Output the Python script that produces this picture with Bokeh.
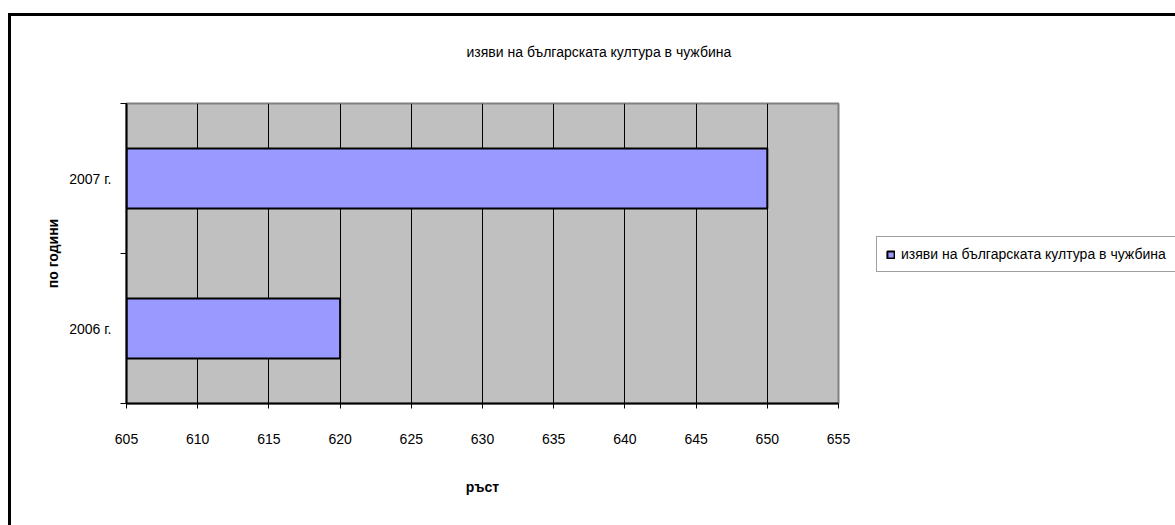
from bokeh.plotting import figure
from bokeh.layouts import row
from bokeh.models import (Range1d, FixedTicker, Legend, LegendItem, ColumnDataSource, Title)
from bokeh.embed import file_html
from bokeh.resources import INLINE

# ---- data ----
chart_title = "изяви на българската култура в чужбина"
series_name = "изяви на българската култура в чужбина"
years = ["2006 г.", "2007 г."]
values = [620, 650]
x_ticks = [605, 610, 615, 620, 625, 630, 635, 640, 645, 650, 655]
x_axis_title = "ръст"
y_axis_title = "по години"
X_MIN, X_MAX = 605, 655

FONT = "Liberation Sans, Arial, sans-serif"
FS = "14px"
BAR_FILL = "#9999FF"

y_pos = [i + 0.5 for i in range(len(years))]
src = ColumnDataSource(dict(y=y_pos, right=values, left=[X_MIN] * len(values)))

p = figure(width=870, height=525, output_backend="svg", toolbar_location=None,
           x_range=Range1d(X_MIN, X_MAX), y_range=Range1d(0, len(years)),
           min_border_left=126, min_border_right=32, min_border_top=103,
           min_border_bottom=122)

p.background_fill_color = "#C0C0C0"
p.border_fill_alpha = 0
p.outline_line_color = "#808080"
p.outline_line_width = 2

# title
p.title = Title(text=chart_title, align="left", offset=340, text_font=FONT,
                text_font_size=FS, text_font_style="normal", text_color="black",
                vertical_align="top", standoff=84)

# grid
p.ygrid.grid_line_color = None
p.xgrid.ticker = FixedTicker(ticks=x_ticks)
p.xgrid.grid_line_color = "black"
p.xgrid.grid_line_width = 1

# bars
r = p.hbar(y="y", left="left", right="right", height=0.4, source=src,
           fill_color=BAR_FILL, line_color="black", line_width=2)

# x axis
xa = p.xaxis[0]
xa.ticker = FixedTicker(ticks=x_ticks)
xa.axis_line_color = "black"
xa.axis_line_width = 2
xa.major_tick_line_color = "black"
xa.major_tick_out = 5
xa.major_tick_in = 0
xa.minor_tick_line_color = None
xa.major_label_standoff = 25
xa.major_label_text_font = FONT
xa.major_label_text_font_size = FS
xa.major_label_text_color = "black"
xa.axis_label = x_axis_title
xa.axis_label_text_font = FONT
xa.axis_label_text_font_size = "14px"
xa.axis_label_text_font_style = "bold"
xa.axis_label_text_color = "black"
xa.axis_label_standoff = 32

# y axis
ya = p.yaxis[0]
ya.ticker = FixedTicker(ticks=y_pos, minor_ticks=list(range(len(years) + 1)))
ya.major_label_overrides = {yp: lab for yp, lab in zip(y_pos, years)}
ya.axis_line_color = "black"
ya.axis_line_width = 2
ya.major_tick_line_color = None
ya.major_tick_out = 0
ya.major_tick_in = 0
ya.minor_tick_line_color = "black"
ya.minor_tick_out = 6
ya.minor_tick_in = 0
ya.major_label_standoff = 9
ya.major_label_text_font = FONT
ya.major_label_text_font_size = FS
ya.major_label_text_color = "black"
ya.axis_label = y_axis_title
ya.axis_label_text_font = FONT
ya.axis_label_text_font_size = "14px"
ya.axis_label_text_font_style = "bold"
ya.axis_label_text_color = "black"
ya.axis_label_standoff = 5

# legend panel: a second, axis-less figure beside the chart (its frame is aligned with the chart's)
p2 = figure(width=305, height=525, output_backend="svg", toolbar_location=None,
            x_range=Range1d(600, 660), y_range=Range1d(-50, 50),
            x_axis_location=None, y_axis_location=None,
            min_border_left=0, min_border_right=0, min_border_top=0, min_border_bottom=0)
p2.grid.visible = False
p2.outline_line_color = None
p2.background_fill_alpha = 0
p2.border_fill_alpha = 0
# same series and style, only used for the legend swatch (hidden; would lie under the legend box anyway)
r2 = p2.hbar(y="y", left="left", right="right", height=0.4, source=src,
             fill_color=BAR_FILL, line_color="black", line_width=2)
r2.visible = False

legend = Legend(items=[LegendItem(label=series_name, renderers=[r2])],
                location=(6, 131), orientation="vertical")
legend.glyph_width = 9
legend.glyph_height = 9
legend.label_standoff = 6
legend.padding = 9
legend.margin = 0
legend.spacing = 0
legend.label_text_font = FONT
legend.label_text_font_size = FS
legend.label_text_color = "black"
legend.border_line_color = "#404040"
legend.border_line_width = 1
legend.background_fill_color = "white"
legend.background_fill_alpha = 1
p2.add_layout(legend, "center")

layout = row(p, p2, spacing=0)
# outer chart border (cut off at right/bottom like the reference)
layout.styles = {
    "background": "linear-gradient(#000,#000) 8px 13px / 3px 100% no-repeat, "
                  "linear-gradient(#000,#000) 8px 13px / 100% 3px no-repeat, #ffffff"
}

open("out.html", "w").write(file_html(layout, INLINE))
